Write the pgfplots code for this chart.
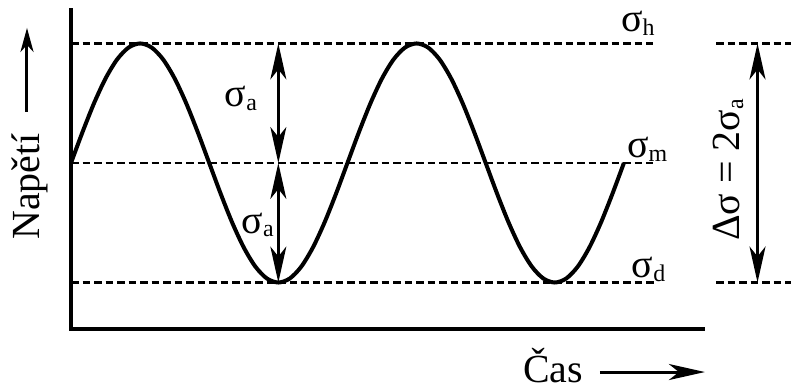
\documentclass[border=0pt]{standalone}
\usepackage{fontspec}
\setmainfont{Liberation Serif}
\usepackage{pgfplots}
\pgfplotsset{compat=1.18}
\usetikzlibrary{arrows.meta}
\newcommand\sub[1]{\raisebox{-3.5bp}{\fontsize{24}{25}\selectfont #1}}
\begin{document}
\begin{tikzpicture}
\useasboundingbox (0bp,0bp) rectangle (791bp,390bp);
\fontsize{40}{48}\selectfont
\tikzset{
  dashln/.style={line width=2.5bp, dash pattern=on 7.5bp off 4bp},
  bigtip/.tip={Stealth[length=36bp, width=16bp, inset=10bp]},
  smalltip/.tip={Stealth[length=24bp, width=13bp, inset=7bp]},
}
\begin{axis}[
  at={(71bp,61bp)}, anchor=south west,
  scale only axis, width=632bp, height=319bp,
  xmin=0, xmax=823, ymin=-1.389, ymax=1.28,
  axis x line*=bottom, axis y line*=left,
  axis line style={line width=3bp, line cap=rect},
  ticks=none, clip=false,
]
% level lines
\draw[dashln] (axis cs:0,1) -- (axis cs:758,1);
\draw[dashln] (axis cs:0,0) -- (axis cs:758,0);
\draw[dashln] (axis cs:0,-1) -- (axis cs:760,-1);
\draw[dashln] (axis cs:840,1) -- (axis cs:1004,1);
\draw[dashln] (axis cs:840,-1) -- (axis cs:1004,-1);
% stress cycle
\addplot[black, line width=4bp, smooth] coordinates {
  (0,0) (15,0.2588) (30,0.5) (45,0.7071) (60,0.8660) (75,0.9659) (90,1)
  (105,0.9659) (120,0.8660) (135,0.7071) (150,0.5) (165,0.2588) (180,0)
  (195,-0.2588) (210,-0.5) (225,-0.7071) (240,-0.8660) (255,-0.9659) (270,-1)
  (285,-0.9659) (300,-0.8660) (315,-0.7071) (330,-0.5) (345,-0.2588) (360,0)
  (375,0.2588) (390,0.5) (405,0.7071) (420,0.8660) (435,0.9659) (450,1)
  (465,0.9659) (480,0.8660) (495,0.7071) (510,0.5) (525,0.2588) (540,0)
  (555,-0.2588) (570,-0.5) (585,-0.7071) (600,-0.8660) (615,-0.9659) (630,-1)
  (645,-0.9659) (660,-0.8660) (675,-0.7071) (690,-0.5) (705,-0.2588) (720,0)
};
% amplitude arrows
\draw[line width=2.5bp, {bigtip}-{bigtip}] (axis cs:270,1) -- (axis cs:270,0);
\draw[line width=2.5bp, {bigtip}-{bigtip}] (axis cs:270,0) -- (axis cs:270,-1);
\draw[line width=3bp, {bigtip}-{bigtip}] (axis cs:894,1) -- (axis cs:894,-1);
% labels
\node[anchor=base west, inner sep=0pt] at (axis cs:200,0.469) {σ\sub{a}};
\node[anchor=base west, inner sep=0pt] at (axis cs:222,-0.586) {σ\sub{a}};
\node[anchor=base west, inner sep=0pt] at (axis cs:716,1.096) {σ\sub{h}};
\node[anchor=base west, inner sep=0pt] at (axis cs:724,0.042) {σ\sub{m}};
\node[anchor=base west, inner sep=0pt] at (axis cs:730,-0.962) {σ\sub{d}};
\node[rotate=90, inner sep=0pt] at (axis cs:856,-0.059) {Δσ = 2σ\sub{a}};
% axis titles
\node[rotate=90, anchor=base west, inner sep=0pt] at (axis cs:-40.4,-0.644) {Napětí};
\draw[line width=3bp, -{smalltip}] (axis cs:-57.3,0.427) -- (axis cs:-57.3,1.13);
\node[anchor=base west, inner sep=0pt] at (axis cs:588.5,-1.84) {Čas};
\draw[line width=3bp, -{bigtip}] (axis cs:688.8,-1.749) -- (axis cs:825.5,-1.749);
\end{axis}
\end{tikzpicture}
\end{document}
